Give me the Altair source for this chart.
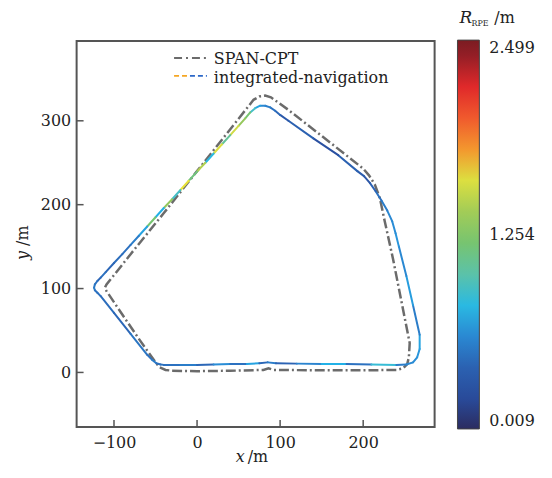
import altair as alt
import pandas as pd

# ---------------- data (metres) ----------------
span_x = [-30, 0, 40, 80, 86, 92, 150, 200, 240, 248, 253, 255, 256, 246, 236, 226,
          220, 214, 207, 200, 150, 110, 96, 89, 82, 75, 68, 40, 0, -40, -80, -104,
          -109, -111, -109, -90, -70, -50, -45, -38, -30]
span_y = [2, 1.5, 2, 3, 5, 3, 2.5, 2.5, 3, 5, 10, 18, 35, 85, 135, 180,
          208, 224, 235, 243, 282, 313, 323, 328, 330, 329, 325, 290, 240, 190, 141,
          111, 105, 101, 97, 69, 40, 12, 6, 3, 2]

nav_x = [-40, -20, 0, 20, 40, 60, 75, 85, 95, 120, 150, 180, 210, 240, 252, 260,
         265, 268, 268, 260, 252, 243, 239, 235, 229, 222, 215, 208, 201, 193, 170,
         140, 110, 100, 94, 88, 82, 76, 70, 64, 58, 50, 40, 30, 20, 10, 0, -10, -20,
         -30, -40, -50, -60, -70, -80, -90, -100, -110, -116, -120, -123, -124,
         -123, -120, -116, -100, -80, -60, -54, -49, -44, -40]
nav_y = [9, 9, 9, 9.5, 10, 10, 11, 12, 11, 10.5, 10, 10, 9.5, 9, 9.5, 12,
         18, 28, 45, 80, 115, 150, 166, 180, 193, 205, 216, 226, 234, 240, 259,
         279, 300, 307, 312, 316, 318, 318, 315, 310, 303, 294, 283, 272, 261, 250,
         239.5, 228.5, 217.5, 206.5, 196, 185, 174, 163, 152, 141, 130.5, 119.5,
         113, 109, 105, 101, 98, 95, 91, 71, 46, 21, 15, 11, 9.5, 9]
# RPE of each segment (start vertex -> next vertex)
nav_rpe = [0.5, 0.55, 0.45, 0.62, 0.5, 0.7, 0.45, 0.55, 0.42, 0.58, 0.75, 0.5,
           0.85, 0.55, 0.6, 0.62, 0.65, 0.7, 0.55, 0.68, 0.6, 0.65, 0.62, 0.6,
           0.55, 0.5, 0.42, 0.3, 0.35, 0.4, 0.25, 0.4, 0.32, 0.45, 0.5, 0.55, 0.6,
           0.7, 0.9, 1.2, 1.35, 1.55, 1.05, 1.6, 0.8, 1.45, 1.15, 1.65, 0.9, 1.35,
           0.75, 1.2, 0.7, 0.55, 0.5, 0.48, 0.45, 0.5, 0.45, 0.5, 0.52, 0.55, 0.5,
           0.5, 0.48, 0.45, 0.52, 0.5, 0.55, 0.5, 0.5]

x_ticks = [-100, 0, 100, 200]
y_ticks = [0, 100, 200, 300]
rpe_ticks = [0.009, 1.254, 2.499]
series_names = ["SPAN-CPT", "integrated-navigation"]

cmap_stops = [0.009, 0.09, 0.24, 0.46, 0.63, 0.77, 0.92, 1.05, 1.22, 1.37, 1.52,
              1.65, 1.79, 1.90, 2.05, 2.19, 2.32, 2.499]
cmap_colors = ["#2b2c60", "#253b85", "#2a4fa0", "#2c68b8", "#2a8fd8", "#21b7ea",
               "#4cc0c2", "#64c39a", "#7ac46a", "#99c95a", "#c8d84a", "#e9e33a",
               "#f39a2e", "#f27a2e", "#ef4a2c", "#e52a2a", "#a81f2a", "#7b1c22"]

# ---------------- chart ----------------
W, H = 360, 388
FONT = "DejaVu Serif"
TXT = "#222222"
GRAY = "#6b6b6b"

span = pd.DataFrame({"x": span_x, "y": span_y, "i": list(range(len(span_x)))})
nav = pd.DataFrame({"x": nav_x[:-1], "y": nav_y[:-1],
                    "x2": nav_x[1:], "y2": nav_y[1:], "rpe": nav_rpe})
xt = pd.DataFrame({"v": x_ticks})
yt = pd.DataFrame({"v": y_ticks})
one = lambda s: pd.DataFrame({"label": [s]})

xs = alt.Scale(domain=[-145, 286], nice=False, zero=False)
ys = alt.Scale(domain=[-65, 395], nice=False, zero=False)
cs = alt.Scale(domain=cmap_stops, range=cmap_colors, interpolate="rgb")

xaxis = alt.Axis(values=x_ticks, title=None, grid=False, ticks=False, domain=False,
                 tickSize=0, labelFont=FONT, labelFontSize=16, labelColor=TXT,
                 labelPadding=8, format="d")
yaxis = alt.Axis(values=y_ticks, title=None, grid=False, ticks=False, domain=False,
                 tickSize=0, labelFont=FONT, labelFontSize=16, labelColor=TXT,
                 labelPadding=6, format="d")

gray = alt.Chart(span).mark_line(color=GRAY, strokeWidth=2.5,
                                 strokeDash=[10, 3, 2, 3]).encode(
    x=alt.X("x:Q", scale=xs, axis=xaxis),
    y=alt.Y("y:Q", scale=ys, axis=yaxis),
    order="i:Q",
)

navl = alt.Chart(nav).mark_rule(strokeWidth=2, strokeCap="round").encode(
    x=alt.X("x:Q", scale=xs),
    y=alt.Y("y:Q", scale=ys),
    x2="x2:Q",
    y2="y2:Q",
    color=alt.Color("rpe:Q", scale=cs, legend=alt.Legend(
        title=None, orient="none", legendX=383, legendY=-1, direction="vertical",
        gradientLength=391, gradientThickness=22, gradientStrokeColor="#444444",
        gradientStrokeWidth=1, values=rpe_ticks, format=".3f", labelFont=FONT,
        labelFontSize=16, labelColor=TXT, labelOffset=10)),
)

xtick = alt.Chart(xt).mark_rule(color="#555555", strokeWidth=1.5).encode(
    x=alt.X("v:Q", scale=xs), y=alt.value(H), y2=alt.value(H - 7))
ytick = alt.Chart(yt).mark_rule(color="#555555", strokeWidth=1.5).encode(
    y=alt.Y("v:Q", scale=ys), x=alt.value(0), x2=alt.value(7))

# legend (manual, inside the plot)
leg_gray = alt.Chart(one("g")).mark_rule(color=GRAY, strokeWidth=2.2,
                                         strokeDash=[8, 4, 2, 4]).encode(
    x=alt.value(98), x2=alt.value(130), y=alt.value(17))
leg_or = alt.Chart(one("o")).mark_rule(color="#f5a623", strokeWidth=1.8,
                                       strokeDash=[5, 3]).encode(
    x=alt.value(98), x2=alt.value(113), y=alt.value(35))
leg_bl = alt.Chart(one("b")).mark_rule(color="#2c68c8", strokeWidth=1.8,
                                       strokeDash=[5, 3]).encode(
    x=alt.value(114), x2=alt.value(131), y=alt.value(35))


def txt(s, x, y, size=16, style="normal", angle=0, align="left", baseline="alphabetic"):
    return alt.Chart(one(s)).mark_text(
        font=FONT, fontSize=size, fontStyle=style, color=TXT, align=align,
        baseline=baseline, angle=angle).encode(
        x=alt.value(x), y=alt.value(y), text="label:N")


texts = [
    txt(series_names[0], 138, 23),
    txt(series_names[1], 138, 42),
    txt("x", 160, 423, style="italic"),
    txt("/m", 172, 423),
    txt("y", -54, 220, style="italic", angle=270, baseline="middle"),
    txt("/m", -54, 206, angle=270, baseline="middle"),
    txt("R", 385, -18, size=17, style="italic"),
    txt("RPE", 397, -15, size=8),
    txt("/m", 420, -18),
]

chart = alt.layer(gray, navl, xtick, ytick, leg_gray, leg_or, leg_bl, *texts).properties(
    width=W, height=H,
    padding={"left": 69, "top": 32, "right": 110, "bottom": 45},
    autosize=alt.AutoSizeParams(type="none"),
).configure_view(stroke="#555555", strokeWidth=2).configure_legend(
    gradientVerticalMaxLength=500)

chart.save("out.html", embed_options={"renderer": "svg", "actions": False})
